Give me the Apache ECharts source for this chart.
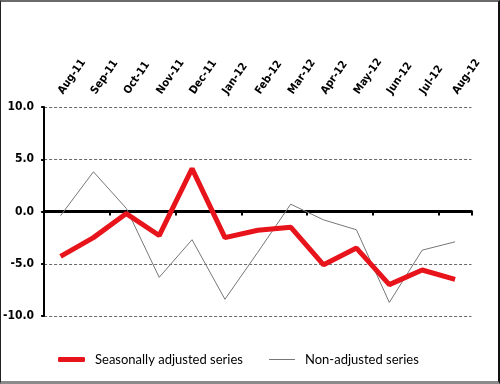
<!DOCTYPE html>
<html>
<head>
<meta charset="utf-8">
<script src="https://cdn.jsdelivr.net/npm/echarts@6/dist/echarts.min.js"></script>
<style>
html,body{margin:0;padding:0;background:#fff;}
#wrap{position:relative;width:500px;height:384px;}
#chart{position:absolute;left:0;top:0;width:500px;height:384px;}
#frame{position:absolute;left:0;top:0;width:500px;height:384px;box-sizing:border-box;
 border-top:2px solid #6a6a6a;border-left:1px solid #222;border-right:2px solid #111;border-bottom:3px solid #8a8a8a;pointer-events:none;}
</style>
</head>
<body>
<div id="wrap"><div id="chart"></div><div id="frame"></div></div>
<script>
const categories = ['Aug-11','Sep-11','Oct-11','Nov-11','Dec-11','Jan-12','Feb-12','Mar-12','Apr-12','May-12','Jun-12','Jul-12','Aug-12'];
const seasonallyAdjusted = [-4.3, -2.5, -0.2, -2.3, 4.1, -2.5, -1.8, -1.5, -5.1, -3.5, -7.0, -5.6, -6.5];
const nonAdjusted = [-0.4, 3.8, 0.3, -6.3, -2.7, -8.4, -3.9, 0.7, -0.8, -1.75, -8.7, -3.7, -2.9];
const yTicks = [-10, -5, 0, 5, 10];
const seriesNames = ['Seasonally adjusted series', 'Non-adjusted series'];

const chart = echarts.init(document.getElementById('chart'), null, {renderer:'canvas'});
const legendFont = {fontSize:13, color:'#000', fontFamily:'Lato,"Open Sans",sans-serif', padding:[0,0,0,5]};
const labelFont = '"DejaVu Sans Condensed","Open Sans",sans-serif';
chart.setOption({
  animation:false,
  backgroundColor:'#fff',
  grid:{left:39.5, right:28.5, top:107, bottom:68, containLabel:false},
  legend:[
    {data:[{name:seriesNames[0], icon:'roundRect'}], left:53, top:348, itemWidth:27, itemHeight:5, textStyle:legendFont},
    {data:[{name:seriesNames[1], icon:'rect'}], left:264, top:348, itemWidth:26, itemHeight:1, textStyle:legendFont}
  ],
  xAxis:[
    {type:'category', data:categories, position:'top', boundaryGap:true,
     axisLine:{show:false, onZero:false}, axisTick:{show:false}, splitLine:{show:false},
     axisLabel:{interval:0, rotate:-55, margin:14, color:'#000', fontWeight:'bold', fontSize:11, fontFamily:labelFont}},
    {type:'category', data:categories, position:'bottom', boundaryGap:true,
     axisLine:{onZero:true, lineStyle:{color:'#000', width:3}},
     axisTick:{show:true, length:4, lineStyle:{color:'#000', width:2}},
     axisLabel:{show:false}, splitLine:{show:false}}
  ],
  yAxis:{type:'value', min:yTicks[0], max:yTicks[yTicks.length-1], interval:5, position:'left',
    axisLine:{show:true, onZero:false, lineStyle:{color:'#000', width:2}},
    axisTick:{show:true, length:3, lineStyle:{color:'#000', width:2}},
    axisLabel:{color:'#000', fontWeight:'bold', fontSize:12, margin:10, fontFamily:labelFont,
      formatter:v=>v.toFixed(1)},
    splitLine:{show:true, lineStyle:{color:'#666', width:1, type:[3,2]}}
  },
  series:[
    {name:seriesNames[0], type:'line', xAxisIndex:1, data:seasonallyAdjusted, showSymbol:false, symbol:'none',
     lineStyle:{color:'#e8141c', width:5}, itemStyle:{color:'#e8141c'}, z:3},
    {name:seriesNames[1], type:'line', xAxisIndex:1, data:nonAdjusted, showSymbol:false, symbol:'none',
     lineStyle:{color:'#777', width:1}, itemStyle:{color:'#777'}, z:2}
  ]
});
</script>
</body>
</html>
